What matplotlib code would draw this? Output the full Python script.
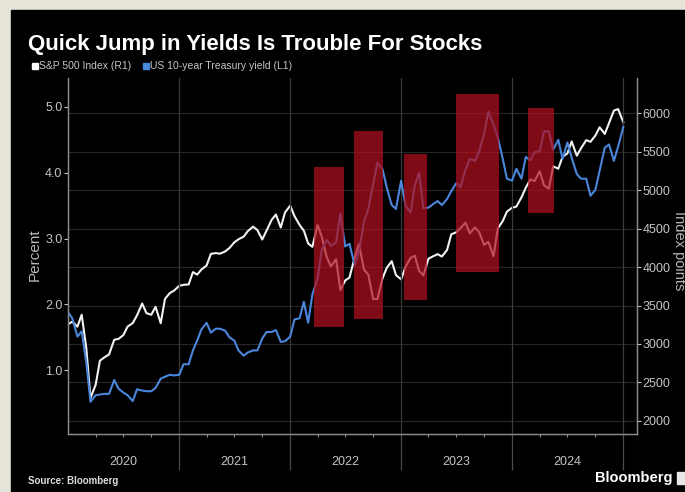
import pandas as pd
import matplotlib
matplotlib.use("Agg")
import matplotlib.pyplot as plt
import matplotlib.dates as mdates
from matplotlib.patches import Rectangle
from matplotlib.ticker import FormatStrFormatter

plt.rcParams['font.family'] = ['Liberation Sans', 'DejaVu Sans']

# semi-monthly observations, Jan 2020 - Jan 2025
dates = pd.date_range('2020-01-01', '2025-01-01', freq='SMS')

spx = [3258, 3289, 3225, 3380, 2954, 2300, 2470, 2783, 2830, 2863, 3055, 3066,
       3115, 3226, 3271, 3372, 3526, 3401, 3380, 3483, 3270, 3585, 3662, 3694,
       3756, 3768, 3774, 3934, 3901, 3968, 4020, 4170, 4181, 4173, 4202, 4246,
       4320, 4360, 4395, 4468, 4524, 4480, 4357, 4471, 4613, 4682, 4513, 4709,
       4796, 4662, 4546, 4471, 4306, 4262, 4545, 4392, 4132, 4008, 4101, 3700,
       3825, 3863, 4119, 4297, 3966, 3901, 3586, 3583, 3856, 3991, 4076, 3895,
       3839, 3999, 4119, 4147, 3951, 3891, 4109, 4137, 4167, 4136, 4221, 4425,
       4450, 4505, 4576, 4437, 4515, 4450, 4288, 4327, 4140, 4502, 4595, 4719,
       4770, 4784, 4906, 5029, 5137, 5117, 5243, 5061, 5018, 5308, 5277, 5431,
       5475, 5631, 5446, 5543, 5648, 5626, 5708, 5815, 5728, 5870, 6032, 6051,
       5880]

yld = [1.88, 1.79, 1.51, 1.59, 1.13, 0.52, 0.62, 0.63, 0.64, 0.64, 0.85, 0.72,
       0.66, 0.62, 0.53, 0.71, 0.69, 0.68, 0.68, 0.73, 0.87, 0.90, 0.93, 0.92,
       0.93, 1.09, 1.09, 1.30, 1.45, 1.62, 1.72, 1.57, 1.63, 1.63, 1.60, 1.50,
       1.45, 1.30, 1.22, 1.27, 1.30, 1.30, 1.48, 1.58, 1.58, 1.61, 1.43, 1.44,
       1.51, 1.77, 1.79, 2.04, 1.72, 2.15, 2.39, 2.83, 2.98, 2.89, 2.94, 3.38,
       2.88, 2.92, 2.60, 2.79, 3.26, 3.45, 3.83, 4.15, 4.05, 3.77, 3.51, 3.45,
       3.88, 3.51, 3.39, 3.81, 4.00, 3.46, 3.47, 3.52, 3.57, 3.51, 3.60, 3.72,
       3.84, 3.78, 4.05, 4.21, 4.18, 4.33, 4.59, 4.93, 4.73, 4.54, 4.22, 3.91,
       3.88, 4.06, 3.91, 4.24, 4.19, 4.31, 4.33, 4.63, 4.63, 4.35, 4.50, 4.21,
       4.46, 4.23, 3.98, 3.91, 3.91, 3.65, 3.74, 4.03, 4.38, 4.43, 4.18, 4.40,
       4.70]

# periods where yields jumped quickly
jump_start = ['2022-03-20', '2022-07-30', '2023-01-11', '2023-06-30', '2024-02-21']
jump_end = ['2022-06-27', '2022-11-02', '2023-03-27', '2023-11-18', '2024-05-17']
jump_low = [1.66, 1.78, 2.07, 2.49, 3.39]
jump_high = [4.09, 4.64, 4.29, 5.19, 4.99]

years = [2020, 2021, 2022, 2023, 2024]
pct_ticks = [1.0, 2.0, 3.0, 4.0, 5.0]
idx_ticks = [2000, 2500, 3000, 3500, 4000, 4500, 5000, 5500, 6000]

W, H = 685, 492
fig = plt.figure(figsize=(W / 100, H / 100), dpi=100, facecolor='#e7e4d9')
fig.add_artist(Rectangle((11 / W, 0), 1, 1 - 10 / H, transform=fig.transFigure,
                         color='black', zorder=0))

ax = fig.add_axes([68 / W, 1 - 434 / H, (637 - 68) / W, (434 - 78) / H])
ax2 = ax.twinx()
ax.set_zorder(ax2.get_zorder() + 1)
ax.patch.set_visible(False)
ax2.patch.set_facecolor('black')

grey = '#c4c4c4'

# S&P on the right axis
ax2.plot(dates, spx, color='#f2f2f2', lw=1.5)
ax2.set_ylim(1831, 6455)
ax2.set_yticks(idx_ticks)
ax2.grid(axis='y', color='#262626', lw=0.9)
ax2.tick_params(axis='y', colors=grey, labelsize=9, length=3, width=0.8, pad=1)

# 10-year yield on the left axis
ax.plot(dates, yld, color='#4a86dc', lw=1.5, zorder=2)
ax.set_ylim(0.03, 5.44)
ax.set_yticks(pct_ticks)
ax.yaxis.set_major_formatter(FormatStrFormatter('%.1f'))
ax.tick_params(axis='y', colors=grey, labelsize=9, length=3, width=0.8, pad=1)

for s, e, lo, hi in zip(jump_start, jump_end, jump_low, jump_high):
    x0 = mdates.date2num(pd.Timestamp(s))
    x1 = mdates.date2num(pd.Timestamp(e))
    ax.add_patch(Rectangle((x0, lo), x1 - x0, hi - lo, facecolor='#b0101e',
                           alpha=0.72, edgecolor='none', zorder=3))

ax.set_xlim(pd.Timestamp('2020-01-01'), pd.Timestamp('2025-02-15'))
ax.set_xticks([pd.Timestamp(f'{y}-01-01') for y in years[1:] + [2025]])
ax.xaxis.set_minor_locator(mdates.MonthLocator(bymonth=[4, 7, 10]))
ax.set_xticklabels([])
ax.tick_params(axis='x', which='major', length=26, color='#4a4a4a', width=0.9)
ax.tick_params(axis='x', which='minor', length=2, color='#888888', width=0.8)
ax.grid(axis='x', which='major', color='#3a3a3a', lw=0.9)

for y in years:
    ax.text(pd.Timestamp(f'{y}-07-01'), -28 / 356, str(y), transform=ax.get_xaxis_transform(),
            ha='center', va='center', color=grey, fontsize=9)

for a in (ax, ax2):
    a.spines['top'].set_visible(False)
    for side in ('left', 'right', 'bottom'):
        a.spines[side].set_color('#8c8c8c')
        a.spines[side].set_linewidth(0.9)

fig.text(28 / W, 1 - 50 / H, 'Quick Jump in Yields Is Trouble For Stocks', color='white',
         fontsize=16, fontweight='bold', va='baseline')

# legend
fig.add_artist(Rectangle((32 / W, 1 - 69 / H), 6 / W, 6 / H, transform=fig.transFigure,
                         color='white'))
fig.text(39 / W, 1 - 66 / H, 'S&P 500 Index (R1)', color=grey, fontsize=7.5, va='center')
fig.add_artist(Rectangle((143 / W, 1 - 69 / H), 6 / W, 6 / H, transform=fig.transFigure,
                         color='#4a86dc'))
fig.text(150 / W, 1 - 66 / H, 'US 10-year Treasury yield (L1)', color=grey, fontsize=7.5,
         va='center')

fig.text(35 / W, 1 - 255 / H, 'Percent', color='#b8b8b8', fontsize=11, rotation=90,
         ha='center', va='center')
fig.text(679 / W, 1 - 251 / H, 'Index points', color='#b8b8b8', fontsize=10.5, rotation=270,
         ha='center', va='center')

fig.text(28 / W, 1 - 481 / H, 'Source: Bloomberg', color='#dddddd', fontsize=7,
         fontweight='bold', va='center')
fig.text(672 / W, 1 - 478 / H, 'Bloomberg', color='white', fontsize=10.5,
         fontweight='bold', ha='right', va='center')
fig.add_artist(Rectangle((677 / W, 1 - 484 / H), 10 / W, 12 / H, transform=fig.transFigure,
                         color='#e8e8e8'))

fig.savefig('out.png', dpi=100, facecolor=fig.get_facecolor())
